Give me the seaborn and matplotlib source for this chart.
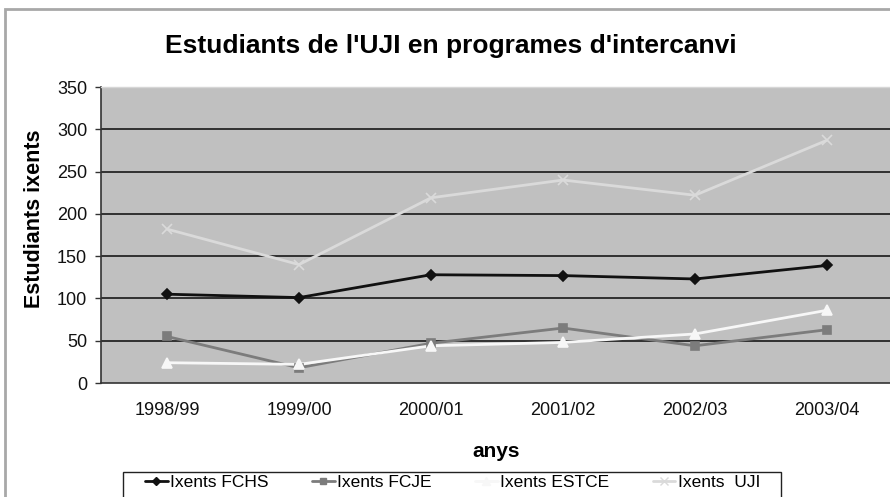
import matplotlib
matplotlib.use("Agg")
import matplotlib.pyplot as plt
import pandas as pd
import seaborn as sns
from matplotlib.patches import Rectangle

# values
years = ["1998/99", "1999/00", "2000/01", "2001/02", "2002/03", "2003/04"]
fchs = [105, 101, 128, 127, 123, 139]
fcje = [55, 18, 47, 65, 44, 63]
estce = [24, 22, 44, 48, 58, 86]
uji = [182, 140, 219, 240, 222, 287]

series_names = ["Ixents FCHS", "Ixents FCJE", "Ixents ESTCE", "Ixents  UJI"]
series_values = [fchs, fcje, estce, uji]

title = "Estudiants de l'UJI en programes d'intercanvi"
x_label = "anys"
y_label = "Estudiants ixents"
y_ticks = [0, 50, 100, 150, 200, 250, 300, 350]

W, H = 890, 497


def fx(px):
    return px / W


def fy(py):
    return 1 - py / H


def main() -> None:
    rows = []
    for name, values in zip(series_names, series_values):
        for i, (year, v) in enumerate(zip(years, values)):
            rows.append({"serie": name, "pos": i, "any": year, "valor": v})
    df = pd.DataFrame(rows)

    sns.set_theme(style="white")
    plt.rcParams["font.family"] = ["Liberation Sans", "DejaVu Sans"]
    plt.rcParams["text.color"] = "#000000"

    fig = plt.figure(figsize=(W / 100, H / 100), dpi=100)
    # outer chart-area frame, cut at right and bottom as in the source
    fig.patches.append(Rectangle((fx(5), -0.1), 1.2, fy(9) + 0.1,
                                 transform=fig.transFigure, fill=False,
                                 edgecolor="#a8a8a8", linewidth=2))
    ax = fig.add_axes([fx(101), fy(383), fx(792), 296 / H])
    ax.set_facecolor("#c0c0c0")

    palette = {
        "Ixents FCHS": "#111111",
        "Ixents FCJE": "#7c7c7c",
        "Ixents ESTCE": "#f7f7f7",
        "Ixents  UJI": "#dadada",
    }
    markers = {
        "Ixents FCHS": "D",
        "Ixents FCJE": "s",
        "Ixents ESTCE": "^",
        "Ixents  UJI": "x",
    }
    sizes = {"Ixents FCHS": 5, "Ixents FCJE": 6, "Ixents ESTCE": 7, "Ixents  UJI": 7}

    for y in y_ticks[1:-1]:
        ax.axhline(y, color="#262626", linewidth=1.3, zorder=1)

    sns.lineplot(data=df, x="pos", y="valor", hue="serie", palette=palette,
                 hue_order=series_names, ax=ax, linewidth=2, legend=False, zorder=3)
    for name in series_names:
        sub = df[df["serie"] == name]
        ax.plot(sub["pos"], sub["valor"], linestyle="none", marker=markers[name],
                markersize=sizes[name], color=palette[name],
                markeredgecolor=palette[name], markeredgewidth=1.2, zorder=4)

    ax.set_xlabel("")
    ax.set_ylabel("")
    ax.set_xlim(-0.5, 5.5)
    ax.set_ylim(0, 350)
    ax.set_yticks(y_ticks)
    ax.set_yticklabels([str(t) for t in y_ticks], fontsize=13, color="#111111")
    ax.set_xticks(range(len(years)))
    ax.set_xticklabels(years, fontsize=13, color="#111111")
    ax.set_xticks([i - 0.5 for i in range(len(years) + 1)], minor=True)
    ax.tick_params(axis="x", which="major", length=0, pad=14)
    ax.tick_params(axis="x", which="minor", length=4, width=1, color="#333333", direction="out")
    ax.tick_params(axis="y", length=4, width=1, color="#333333", direction="out", pad=6, left=True)

    ax.spines["right"].set_visible(False)
    ax.spines["top"].set_color("#d6d6d6")
    ax.spines["top"].set_linewidth(1)
    ax.spines["left"].set_color("#333333")
    ax.spines["bottom"].set_color("#333333")
    ax.spines["left"].set_linewidth(1.2)
    ax.spines["bottom"].set_linewidth(1.2)

    fig.text(fx(496), fy(457), x_label, fontsize=15, fontweight="bold",
             ha="center", va="baseline")
    fig.text(fx(35), fy(219), y_label, fontsize=15.5, fontweight="bold",
             ha="center", va="center", rotation=90)
    fig.text(fx(451), fy(53), title, fontsize=19, fontweight="bold",
             ha="center", va="baseline")

    # legend box, cut at the bottom like the source
    fig.patches.append(Rectangle((fx(123), -0.1), fx(781 - 123), fy(472) + 0.1,
                                 transform=fig.transFigure, fill=False,
                                 edgecolor="#222222", linewidth=1))
    handles = []
    for name in series_names:
        (h,) = ax.plot([], [], color=palette[name], marker=markers[name],
                       markersize=sizes[name] - 1, linewidth=2,
                       markeredgecolor=palette[name])
        handles.append(h)
    fig.legend(handles, series_names, loc="upper left",
               bbox_to_anchor=(fx(145), fy(475)), borderaxespad=0, borderpad=0,
               ncol=4, fontsize=12.5, frameon=False,
               handlelength=1.3, handletextpad=0.15, columnspacing=2.5)

    fig.savefig("out.png", dpi=100)
    plt.close(fig)


if __name__ == "__main__":
    main()
